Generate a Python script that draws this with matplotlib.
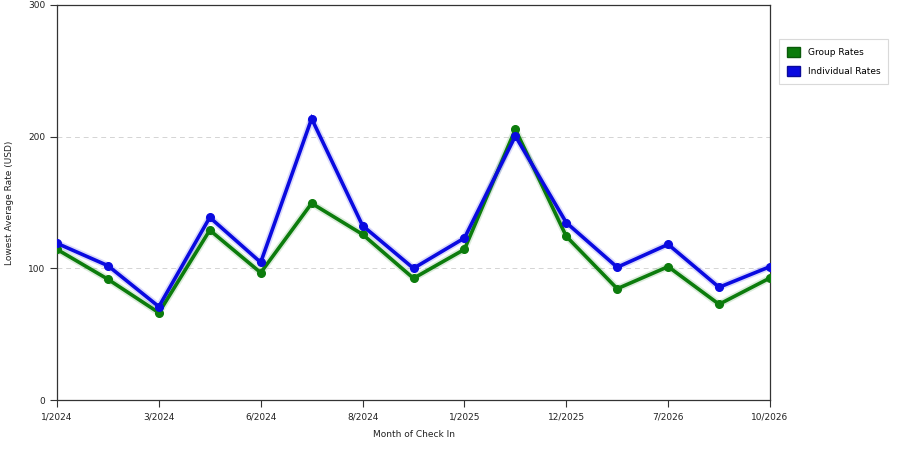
import matplotlib
matplotlib.use("Agg")
import matplotlib.pyplot as plt
from matplotlib.patches import Patch

months = ["1/2024", "2/2024", "3/2024", "4/2024", "6/2024", "7/2024", "8/2024", "9/2024",
          "1/2025", "2/2025", "12/2025", "3/2026", "7/2026", "8/2026", "10/2026"]
tick_labels = ["1/2024", "3/2024", "6/2024", "8/2024", "1/2025", "12/2025", "7/2026", "10/2026"]
group_rates = [114.4, 91.7, 66.3, 129.0, 96.7, 149.4, 125.8, 92.4, 114.4, 205.5, 124.3, 84.5, 101.3, 72.7, 92.7]
individual_rates = [119.0, 102.0, 70.9, 138.7, 104.5, 213.7, 132.4, 100.0, 123.0, 200.5, 134.7, 100.8, 118.2, 85.6, 101.3]

fig = plt.figure(figsize=(9, 4.5), dpi=100)
ax = fig.add_axes([57/900, 1-400/450, (770-57)/900, (400-5)/450])

x = list(range(len(months)))
green = "#0c7c0c"
blue = "#0a0ae0"
for vals, col in [(group_rates, green), (individual_rates, blue)]:
    ax.plot(x, vals, color=col, lw=5, alpha=0.15, solid_capstyle="round", zorder=2)
    ax.plot(x, vals, color=col, lw=2.6, marker="o", ms=5.5, mfc=col, mec=col, zorder=3,
            solid_joinstyle="miter")

ax.set_xlim(0, len(months)-1)
ax.set_ylim(0, 300)
ax.set_yticks([0, 100, 200, 300])
ax.set_xticks(x[::2])
ax.set_xticklabels(tick_labels)
ax.tick_params(axis="both", labelsize=6.5, length=5, width=0.8, color="#333333", labelcolor="#222222")
ax.tick_params(axis="x", pad=4)
for y in [100, 200]:
    ax.axhline(y, color="#d4d4d4", lw=0.7, ls=(0, (5, 4)), zorder=1)
for s in ax.spines.values():
    s.set_color("#333333")
    s.set_linewidth(0.9)

ax.set_xlabel("Month of Check In", fontsize=6.5, color="#222222", labelpad=6)
ax.set_ylabel("Lowest Average Rate (USD)", fontsize=6.5, color="#222222", labelpad=10)

handles = [Patch(facecolor=green, edgecolor="#0a5a0a", label="Group Rates"),
           Patch(facecolor=blue, edgecolor="#0a0a9a", label="Individual Rates")]
leg = fig.legend(handles=handles, loc="upper left", bbox_to_anchor=(779/900, 1-39/450),
                 borderaxespad=0, fontsize=6.5, frameon=True, fancybox=False, edgecolor="#d0d0d0",
                 handlelength=1.45, handleheight=1.35, borderpad=0.85, labelspacing=1.05,
                 handletextpad=0.9)
leg.get_frame().set_linewidth(0.8)

fig.savefig("out.png", dpi=100)
